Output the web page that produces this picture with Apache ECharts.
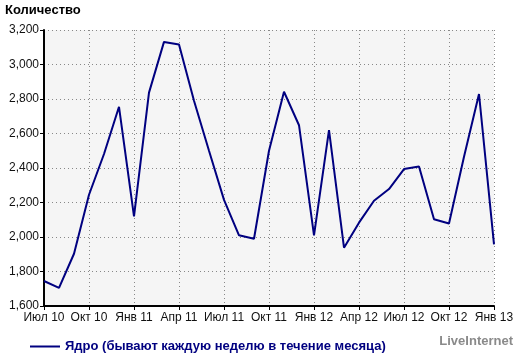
<!DOCTYPE html>
<html>
<head>
<meta charset="utf-8">
<script src="https://cdn.jsdelivr.net/npm/echarts@6/dist/echarts.min.js"></script>
<style>
  html, body { margin: 0; padding: 0; background: #fff; }
  #chart { width: 520px; height: 353px; }
</style>
</head>
<body>
<div id="chart"></div>
<script>
var months = ["Июл 10", "Авг 10", "Сен 10", "Окт 10", "Ноя 10", "Дек 10",
    "Янв 11", "Фев 11", "Мар 11", "Апр 11", "Май 11", "Июн 11",
    "Июл 11", "Авг 11", "Сен 11", "Окт 11", "Ноя 11", "Дек 11",
    "Янв 12", "Фев 12", "Мар 12", "Апр 12", "Май 12", "Июн 12",
    "Июл 12", "Авг 12", "Сен 12", "Окт 12", "Ноя 12", "Дек 12",
    "Янв 13"];

var coreValues = [1745, 1705, 1903, 2245, 2481, 2755,
    2120, 2837, 3131, 3116, 2790, 2500,
    2215, 2010, 1990, 2500, 2842, 2648,
    2010, 2619, 1938, 2083, 2210, 2278,
    2394, 2409, 2103, 2078, 2465, 2829,
    1957];

var seriesName = "Ядро (бывают каждую неделю в течение месяца)";

var chart = echarts.init(document.getElementById("chart"));

var font = "Liberation Sans, Arial, sans-serif";

chart.setOption({
    animation: false,
    textStyle: { fontFamily: font },
    grid: {
        left: 44, right: 26, top: 30, bottom: 47,
        show: true,
        backgroundColor: "#f5f5f5",
        borderWidth: 0
    },
    graphic: [
        {
            type: "text", left: 5, top: 4,
            style: { text: "Количество", font: "bold 13px " + font, fill: "#000" }
        },
        {
            type: "text", right: 7, top: 335,
            style: { text: "LiveInternet", font: "bold 13px " + font, fill: "#8a8a8a" }
        }
    ],
    legend: {
        left: 25, top: 335,
        icon: "rect",
        itemWidth: 30, itemHeight: 2,
        itemGap: 8,
        textStyle: { color: "#000080", fontWeight: "bold", fontSize: 13, fontFamily: font },
        data: [seriesName]
    },
    xAxis: {
        type: "category",
        boundaryGap: false,
        data: months,
        axisLine: { lineStyle: { color: "#000", width: 2 } },
        axisTick: { interval: 2, length: 4, lineStyle: { color: "#000" } },
        axisLabel: { interval: 2, color: "#111", fontSize: 12, margin: 6 },
        splitLine: {
            show: true, interval: 2,
            lineStyle: { color: "#888", type: [1, 3], width: 1 }
        }
    },
    yAxis: {
        type: "value",
        min: 1600, max: 3200, interval: 200,
        axisLine: { show: true, lineStyle: { color: "#000", width: 2 } },
        axisTick: { show: true, length: 4, lineStyle: { color: "#000" } },
        axisLabel: {
            color: "#111", fontSize: 12, margin: 5,
            formatter: function (v) { return v.toLocaleString("en-US"); }
        },
        splitLine: { lineStyle: { color: "#888", type: [1, 3], width: 1 } }
    },
    series: [{
        name: seriesName,
        type: "line",
        data: coreValues,
        showSymbol: false,
        symbol: "none",
        lineStyle: { color: "#000080", width: 2 },
        itemStyle: { color: "#000080" }
    }]
});
</script>
</body>
</html>
